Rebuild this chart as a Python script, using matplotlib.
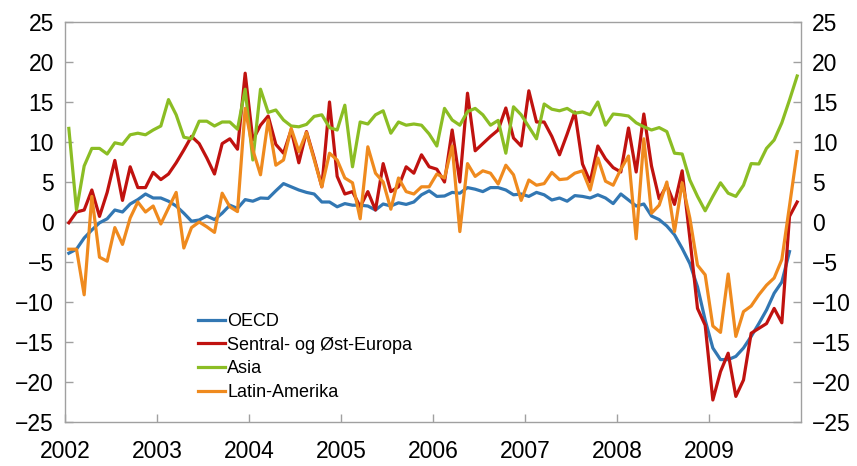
import numpy as np
import matplotlib
matplotlib.use("Agg")
import matplotlib.pyplot as plt

plt.rcParams['font.family'] = ['Liberation Sans', 'DejaVu Sans']

# monthly values, Jan 2002 - Dec 2009
oecd = [-3.9, -3.4, -2.0, -1.0, -0.1, 0.4, 1.5, 1.25, 2.25, 2.8, 3.5, 3.0,
        3.0, 2.6, 2.0, 1.1, 0.1, 0.25, 0.75, 0.3, 1.1, 2.1, 1.7, 2.8,
        2.6, 3.0, 2.95, 3.9, 4.8, 4.4, 4.0, 3.7, 3.5, 2.5, 2.5, 1.9,
        2.3, 2.1, 2.1, 2.0, 1.5, 2.25, 2.0, 2.4, 2.2, 2.5, 3.4, 3.9,
        3.2, 3.25, 3.7, 3.6, 4.3, 4.1, 3.8, 4.3, 4.3, 4.0, 3.4, 3.5,
        3.2, 3.7, 3.4, 2.75, 3.0, 2.6, 3.3, 3.2, 3.0, 3.4, 3.0, 2.3,
        3.5, 2.75, 2.0, 2.25, 0.75, 0.3, -0.5, -1.6, -3.3, -5.2, -8.1, -12.25,
        -15.75, -17.2, -17.2, -16.8, -15.75, -14.3, -12.7, -11.0, -8.9, -7.5, -3.7, np.nan]

seo = [-0.1, 1.25, 1.5, 4.0, 0.7, 3.7, 7.7, 2.7, 6.9, 4.3, 4.3, 6.2,
       5.3, 6.0, 7.4, 9.0, 10.7, 9.8, 8.0, 6.0, 9.8, 10.4, 9.1, 18.6,
       10.25, 12.1, 13.25, 9.7, 8.6, 11.5, 7.4, 11.3, 8.0, 4.4, 15.0, 5.7,
       3.5, 3.8, 1.9, 3.8, 1.5, 7.3, 3.8, 4.4, 6.9, 6.1, 8.4, 6.9,
       6.6, 5.0, 11.5, 5.0, 16.1, 8.9, 9.8, 10.7, 11.5, 14.25, 10.5, 9.5,
       16.4, 12.5, 12.5, 10.7, 8.4, 11.0, 13.75, 7.25, 5.0, 9.5, 7.9, 6.8,
       6.25, 11.75, 6.25, 13.5, 7.0, 2.9, 4.6, 2.2, 6.4, -2.0, -10.8, -12.9,
       -22.25, -18.7, -16.4, -21.8, -19.75, -13.9, -13.3, -12.7, -10.8, -12.6, 0.7, 2.5]

asia = [11.7, 1.5, 7.0, 9.2, 9.2, 8.5, 9.9, 9.7, 10.9, 11.1, 10.9, 11.5,
        12.0, 15.3, 13.4, 10.6, 10.4, 12.6, 12.6, 12.0, 12.5, 12.5, 11.6, 16.6,
        7.75, 16.6, 13.7, 14.0, 12.75, 12.0, 11.9, 12.2, 13.2, 13.4, 11.8, 11.5,
        14.6, 6.9, 12.5, 12.25, 13.4, 13.9, 11.1, 12.5, 12.1, 12.25, 12.1, 11.0,
        9.5, 14.2, 12.75, 12.1, 13.8, 14.2, 13.4, 12.1, 12.7, 8.6, 14.4, 13.4,
        11.9, 10.4, 14.75, 14.1, 13.9, 14.2, 13.6, 13.75, 13.4, 15.0, 12.1, 13.5,
        13.4, 13.25, 12.4, 11.9, 11.5, 11.8, 11.3, 8.6, 8.5, 5.25, 3.2, 1.4,
        3.2, 4.9, 3.6, 3.2, 4.6, 7.3, 7.25, 9.2, 10.25, 12.4, 15.25, 18.25]

latam = [-3.4, -3.4, -9.1, 3.2, -4.4, -4.9, -0.7, -2.8, 0.5, 2.5, 1.25, 2.0,
         -0.25, 1.75, 3.7, -3.25, -0.7, 0.0, -0.6, -1.3, 3.6, 1.9, 1.3, 14.2,
         9.0, 5.9, 12.75, 7.1, 7.75, 11.7, 8.8, 11.2, 7.8, 4.4, 8.6, 7.75,
         5.5, 4.9, 0.4, 9.4, 6.1, 5.0, 1.6, 5.5, 3.8, 3.5, 4.4, 4.4,
         6.0, 5.5, 9.5, -1.2, 7.3, 5.7, 6.4, 6.1, 4.75, 7.1, 5.9, 2.7,
         5.25, 4.6, 4.8, 6.2, 5.3, 5.4, 6.1, 6.4, 4.0, 8.0, 5.1, 4.6,
         6.6, 8.25, -2.1, 10.4, 1.1, 2.1, 5.0, -1.2, 4.9, 0.5, -5.4, -6.6,
         -13.0, -13.8, -6.5, -14.3, -11.2, -10.5, -9.1, -7.9, -7.0, -4.7, 2.0, 8.8]

labels = ['OECD', 'Sentral- og Øst-Europa', 'Asia', 'Latin-Amerika']
colors = ['#3277b3', '#c0120f', '#8bbd24', '#ef8a1e']

x = 2002 + (np.arange(96) + 0.5) / 12

fig = plt.figure(figsize=(8.57, 4.66), dpi=100)
ax = fig.add_axes([65 / 857, 1 - 422 / 466, 736 / 857, 400 / 466])

ax.axhline(0, color='#999999', lw=1.0, zorder=1)
for data, lab, col in zip([oecd, seo, asia, latam], labels, colors):
    ax.plot(x, data, color=col, lw=2.3, label=lab, zorder=2)

ax.set_xlim(2002, 2010)
ax.set_ylim(-25, 25)
ax.set_xticks(range(2002, 2010))
ax.set_xticklabels([str(y) for y in range(2002, 2010)])
ax.set_yticks(range(-25, 30, 5))

for s in ax.spines.values():
    s.set_color('#a0a0a0')
    s.set_linewidth(1.0)

ax.tick_params(axis='y', direction='in', length=6, width=1, color='#a0a0a0',
               labelsize=16.5, pad=8, left=True, right=True, labelleft=True, labelright=True)
ax.tick_params(axis='x', direction='in', length=6, width=1, color='#a0a0a0',
               labelsize=16.5, pad=13)

leg = ax.legend(loc='upper left', bbox_to_anchor=(0.181, 0.2725), frameon=False,
                fontsize=13, handlelength=1.5, handletextpad=0.1,
                labelspacing=0.37, borderpad=0, borderaxespad=0)

fig.savefig('out.png', dpi=100)
